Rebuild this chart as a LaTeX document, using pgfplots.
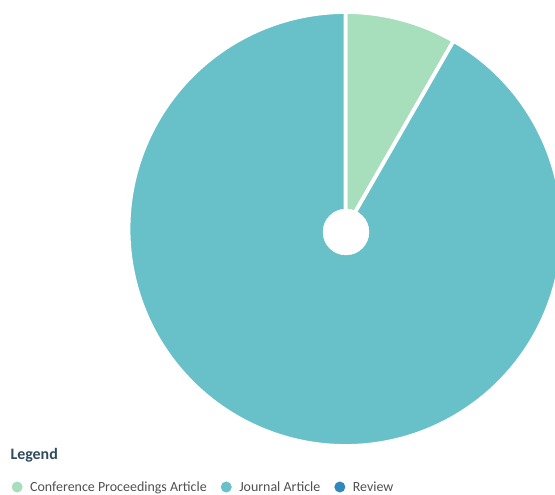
\documentclass[border=0pt]{standalone}
\usepackage{pgfplots}
\pgfplotsset{compat=1.18}
\usepackage{fontspec}
\setmainfont{Carlito}
\definecolor{cconf}{HTML}{A7DEBC}
\definecolor{cjour}{HTML}{68C1C9}
\definecolor{crev}{HTML}{3288BD}
\definecolor{ctitle}{HTML}{2E4B5E}
\definecolor{ctext}{HTML}{4F4F4F}
% shares of the pie (percent)
\def\vConf{8.3}
\def\vJour{91.7}
\def\vRev{0}
\begin{document}
\begin{tikzpicture}
\pgfmathsetmacro{\aA}{90}
\pgfmathsetmacro{\aB}{90-3.6*\vConf}
\pgfmathsetmacro{\aC}{\aB-3.6*\vJour}
\def\cx{345.5}
\def\cy{266}
\def\R{217}
\begin{axis}[
  scale only axis, width=555bp, height=495bp,
  xmin=0, xmax=555, ymin=0, ymax=495,
  hide axis, clip=true,
  legend columns=3,
  legend style={at={(axis cs:11.5,8)}, anchor=west, draw=none, fill=none,
    font=\fontsize{14}{16}\selectfont\color{ctext},
    /tikz/every even column/.append style={column sep=12bp},
    legend cell align=left, inner sep=0pt},
]
\addplot[fill=cconf, draw=white, line width=3.8bp, line join=round, domain=\aA:\aB, samples=60, variable=\t, forget plot]
  ({\cx+\R*cos(\t)},{\cy+\R*sin(\t)}) -- (axis cs:\cx,\cy) -- cycle;
\addplot[fill=cjour, draw=white, line width=3.8bp, line join=round, domain=\aB:\aC, samples=300, variable=\t, forget plot]
  ({\cx+\R*cos(\t)},{\cy+\R*sin(\t)}) -- (axis cs:\cx,\cy) -- cycle;
\addplot[only marks, mark=*, mark size=23bp, color=white, forget plot] coordinates {(346,263)};
\addlegendimage{legend image code/.code={\fill[cconf, draw=none] (0,0) circle (5.5bp); \path[draw=none, fill=none] (0,0) (11bp,0);}}
\addlegendentry{Conference Proceedings Article}
\addlegendimage{legend image code/.code={\fill[cjour, draw=none] (0,0) circle (5.5bp); \path[draw=none, fill=none] (0,0) (11bp,0);}}
\addlegendentry{Journal Article}
\addlegendimage{legend image code/.code={\fill[crev, draw=none] (0,0) circle (5.5bp); \path[draw=none, fill=none] (0,0) (11bp,0);}}
\addlegendentry{Review}
\node[anchor=west, font=\fontsize{16}{18}\selectfont\bfseries, text=ctitle] at (axis cs:7,40) {Legend};
\end{axis}
\pgfresetboundingbox
\useasboundingbox (current axis.south west) rectangle (current axis.north east);
\end{tikzpicture}
\end{document}
